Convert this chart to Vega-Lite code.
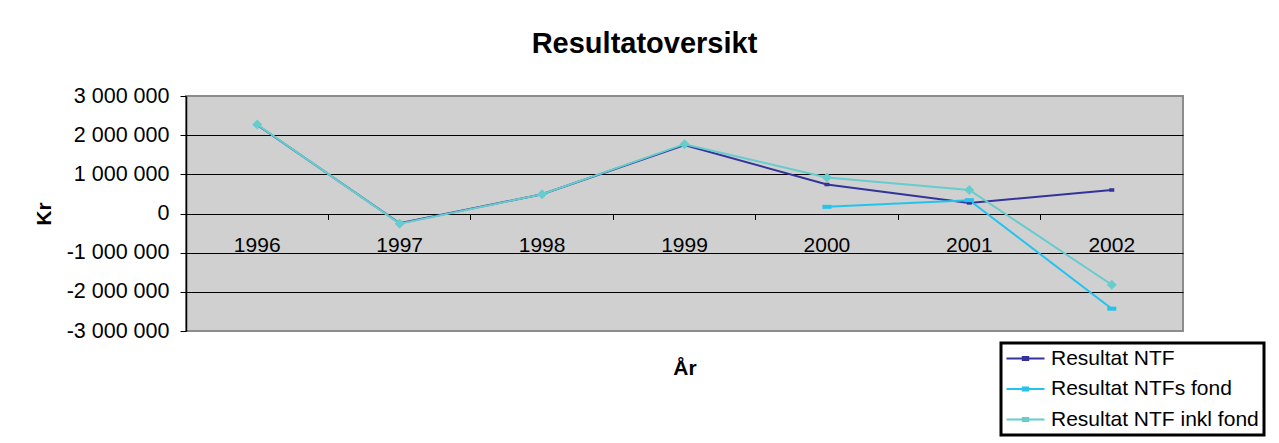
{
  "$schema": "https://vega.github.io/schema/vega-lite/v6.json",
  "autosize": {"type": "none"},
  "padding": {"left": 186, "top": 96, "right": 96, "bottom": 112},
  "width": 997,
  "height": 235,
  "background": "white",
  "title": {
    "text": "Resultatoversikt",
    "fontSize": 29,
    "fontWeight": "bold",
    "font": "Liberation Sans",
    "color": "black",
    "anchor": "middle",
    "frame": "group",
    "dx": -40,
    "baseline": "alphabetic",
    "offset": 3
  },
  "config": {
    "font": "Liberation Sans",
    "view": {"fill": "#D0D0D0", "stroke": "#8C8C8C", "strokeWidth": 2},
    "legend": {"strokeWidth": 3}
  },
  "data": {
    "values": [
      {"year": "1996", "series": "Resultat NTF", "value": 2260000},
      {"year": "1997", "series": "Resultat NTF", "value": -250000},
      {"year": "1998", "series": "Resultat NTF", "value": 490000},
      {"year": "1999", "series": "Resultat NTF", "value": 1750000},
      {"year": "2000", "series": "Resultat NTF", "value": 740000},
      {"year": "2001", "series": "Resultat NTF", "value": 270000},
      {"year": "2002", "series": "Resultat NTF", "value": 600000},
      {"year": "2000", "series": "Resultat NTFs fond", "value": 170000},
      {"year": "2001", "series": "Resultat NTFs fond", "value": 340000},
      {"year": "2002", "series": "Resultat NTFs fond", "value": -2430000},
      {"year": "1996", "series": "Resultat NTF inkl fond", "value": 2270000},
      {"year": "1997", "series": "Resultat NTF inkl fond", "value": -260000},
      {"year": "1998", "series": "Resultat NTF inkl fond", "value": 490000},
      {"year": "1999", "series": "Resultat NTF inkl fond", "value": 1770000},
      {"year": "2000", "series": "Resultat NTF inkl fond", "value": 920000},
      {"year": "2001", "series": "Resultat NTF inkl fond", "value": 600000},
      {"year": "2002", "series": "Resultat NTF inkl fond", "value": -1820000}
    ]
  },
  "encoding": {
    "x": {
      "field": "year",
      "type": "ordinal",
      "sort": null,
      "scale": {"type": "band", "paddingInner": 0, "paddingOuter": 0},
      "axis": {
        "orient": "bottom",
        "offset": -117.5,
        "bandPosition": 0,
        "labelOffset": 0,
        "labelAngle": 0,
        "labelFontSize": 21,
        "labelColor": "black",
        "labelBaseline": "middle",
        "labelPadding": 26,
        "labelOverlap": false,
        "labelFlush": false,
        "labelBound": false,
        "tickSize": 6,
        "tickColor": "black",
        "tickWidth": 1,
        "domain": false,
        "grid": false,
        "title": "År",
        "titleFontSize": 21,
        "titleFontWeight": "bold",
        "titleColor": "black",
        "titleX": 498.5,
        "titleY": 160.8,
        "titleAlign": "center",
        "titleBaseline": "alphabetic"
      }
    },
    "y": {
      "field": "value",
      "type": "quantitative",
      "scale": {"domain": [-3000000, 3000000], "nice": false, "zero": false},
      "axis": {
        "values": [-3000000, -2000000, -1000000, 0, 1000000, 2000000, 3000000],
        "labelExpr": "(datum.value < 0 ? '-' : '') + replace(format(abs(datum.value), ','), regexp(',', 'g'), ' ')",
        "labelFontSize": 21.5,
        "labelColor": "black",
        "labelPadding": 11,
        "tickSize": 6,
        "tickColor": "black",
        "domainColor": "black",
        "domainWidth": 1.5,
        "grid": true,
        "gridColor": {"condition": {"test": "abs(datum.value) == 3000000", "value": "#8C8C8C"}, "value": "black"},
        "gridOpacity": 1,
        "gridWidth": 1,
        "title": "Kr",
        "titleFontSize": 21,
        "titleFontWeight": "bold",
        "titleColor": "black",
        "titleAngle": 270,
        "titleX": -142,
        "titleY": 117.5,
        "titleAlign": "center",
        "titleBaseline": "middle"
      }
    }
  },
  "layer": [
    {
      "mark": {"type": "line", "strokeWidth": 2},
      "encoding": {
        "color": {
          "field": "series",
          "type": "nominal",
          "scale": {
            "domain": ["Resultat NTF", "Resultat NTFs fond", "Resultat NTF inkl fond"],
            "range": ["#333399", "#22C4EE", "#66CCCC"]
          },
          "legend": {
            "orient": "none",
            "legendX": 815,
            "legendY": 247,
            "title": null,
            "fillColor": "white",
            "strokeColor": "black",
            "padding": 5,
            "symbolType": "M-3.17,0H3.17M-0.45,-0.25H0.45V0.25H-0.45Z",
            "symbolSize": 144,
            "symbolStrokeWidth": 2,
            "symbolOffset": 9,
            "labelOffset": 15,
            "labelFontSize": 21,
            "labelColor": "black",
            "labelLimit": 400,
            "rowPadding": 8.5
          }
        }
      }
    },
    {
      "transform": [{"filter": "datum.series == 'Resultat NTF'"}],
      "mark": {"type": "point", "filled": true, "opacity": 1, "size": 100, "color": "#333399", "shape": "M-0.5,-0.35H0.5V0.35H-0.5Z"}
    },
    {
      "transform": [{"filter": "datum.series == 'Resultat NTFs fond'"}],
      "mark": {"type": "point", "filled": true, "opacity": 1, "size": 100, "color": "#22C4EE", "shape": "M-0.9,-0.4H0.9V0.4H-0.9Z"}
    },
    {
      "transform": [{"filter": "datum.series == 'Resultat NTF inkl fond'"}],
      "mark": {"type": "point", "filled": true, "opacity": 1, "size": 110, "color": "#66CCCC", "shape": "M0,-0.95L0.95,0L0,0.95L-0.95,0Z"}
    }
  ]
}
